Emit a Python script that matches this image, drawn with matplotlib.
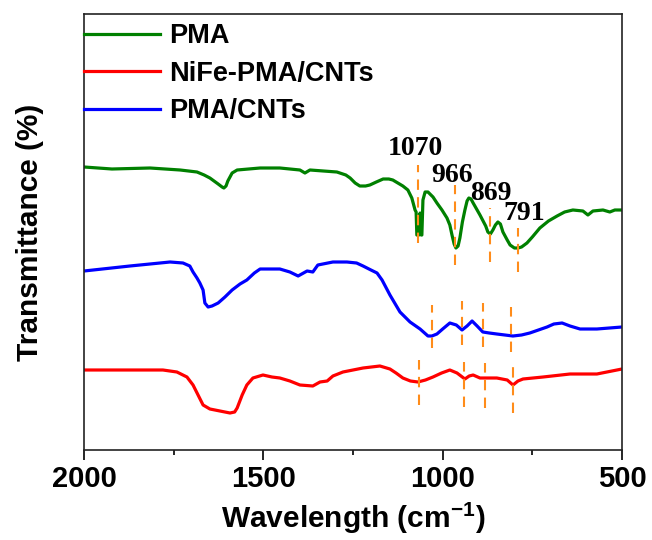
import matplotlib
matplotlib.use("Agg")
import matplotlib.pyplot as plt
from matplotlib.ticker import MultipleLocator

# FTIR spectra (wavenumber in cm-1, transmittance in arbitrary offset units)
pma_wn = [2000, 1922, 1816, 1732, 1685, 1665, 1649, 1626, 1615, 1610, 1604, 1599,
          1587, 1573, 1509, 1454, 1398, 1384, 1370, 1295, 1270, 1258, 1244, 1231,
          1215, 1203, 1185, 1166, 1150, 1139, 1111, 1097, 1086, 1077, 1074, 1072,
          1066, 1063, 1060, 1058, 1055, 1049, 1041, 1027, 1016, 1002, 988, 980,
          974, 968, 963, 957, 952, 945, 938, 932, 927, 921, 915, 896, 880, 874,
          867, 860, 853, 846, 839, 832, 820, 812, 800, 790, 780, 765, 750, 729,
          705, 681, 660, 637, 609, 595, 581, 553, 534, 520, 500]
pma_t = [283, 281, 282, 280, 278, 275, 272, 266, 263, 262, 264, 269,
         277, 280, 282, 282, 280, 277, 280, 278, 275, 272, 267, 264,
         264, 265, 268, 271, 271, 270, 264, 260, 252, 240, 238, 215,
         215, 237, 215, 215, 250, 258, 258, 253, 247, 240, 232, 225,
         215, 206, 202, 204, 212, 228, 240, 249, 252, 251, 247, 235, 224, 218,
         216, 220, 225, 228, 226, 218, 210, 205, 202, 202, 203, 207, 213, 222,
         229, 234, 238, 240, 239, 235, 239, 240, 238, 240, 240]

cnt_wn = [2000, 1872, 1760, 1724, 1705, 1696, 1685, 1677, 1668, 1663, 1654, 1643,
          1626, 1607, 1587, 1565, 1546, 1525, 1509, 1454, 1426, 1403, 1378, 1362,
          1348, 1306, 1267, 1240, 1222, 1200, 1183, 1169, 1147, 1119, 1091, 1063,
          1041, 1030, 1016, 1000, 980, 962, 946, 932, 918, 904, 888, 870, 849,
          804, 780, 757, 733, 709, 690, 667, 645, 617, 570, 500]
cnt_t = [179, 184, 188, 187, 184, 178, 172, 167, 160, 147, 143, 144,
         147, 153, 160, 166, 170, 177, 181, 181, 178, 174, 179, 178,
         185, 188, 188, 187, 184, 180, 177, 170, 155, 138, 128, 121,
         114, 114, 116, 121, 127, 125, 120, 124, 129, 124, 118, 117, 116,
         114, 115, 117, 120, 123, 126, 127, 124, 121, 121, 123]

nife_wn = [2000, 1780, 1741, 1713, 1696, 1682, 1668, 1649, 1621, 1593, 1580, 1573,
           1559, 1546, 1529, 1501, 1476, 1454, 1426, 1398, 1362, 1342, 1322, 1306,
           1278, 1250, 1222, 1175, 1147, 1130, 1111, 1090, 1069, 1048, 1027, 1003,
           980, 960, 938, 926, 915, 896, 849, 820, 804, 790, 776, 720, 645, 570,
           500]
nife_t = [80, 80, 78, 73, 65, 55, 45, 41, 39, 37, 38, 42,
          55, 65, 72, 75, 73, 72, 69, 65, 64, 68, 69, 74,
          78, 80, 82, 84, 81, 77, 72, 69, 68, 70, 73, 77,
          80, 77, 71, 74, 75, 72, 72, 70, 65, 69, 71, 73, 76, 76,
          81]

# Band markers: wavenumber, lower and upper transmittance of each dashed guide
pma_bands = [1070, 966, 869, 791]
pma_band_lo = [207, 185, 188, 178]
pma_band_hi = [285, 265, 242, 222]
cnt_bands = [1030, 946, 888, 810]
cnt_band_lo = [102, 105, 103, 98]
cnt_band_hi = [145, 149, 147, 143]
nife_bands = [1066, 941, 882, 804]
nife_band_lo = [45, 43, 42, 37]
nife_band_hi = [90, 88, 87, 83]

# Peak labels for the PMA spectrum
peak_text = ["1070", "966", "869", "791"]
peak_x = [1075, 974, 865, 773]
peak_y = [295, 268, 250, 230]

sans = ["Liberation Sans", "DejaVu Sans"]
plt.rcParams["mathtext.fontset"] = "custom"
plt.rcParams["mathtext.bf"] = "Liberation Sans:bold"
plt.rcParams["mathtext.rm"] = "Liberation Sans:bold"

fig = plt.figure(figsize=(6.52, 5.40), dpi=100)
ax = fig.add_axes([84 / 652, 90 / 540, 538 / 652, 436 / 540])

green, red, blue = "#008000", "#ff0000", "#0000ff"
orange = "#ff8c1a"
lw = 2.3

ax.plot(pma_wn, pma_t, color=green, lw=lw, label="PMA", solid_joinstyle="round")
ax.plot(nife_wn, nife_t, color=red, lw=lw, label="NiFe-PMA/CNTs",
        solid_joinstyle="round")
ax.plot(cnt_wn, cnt_t, color=blue, lw=lw, label="PMA/CNTs", solid_joinstyle="round")

dash = (0, (5, 3.5))
for wn_list, lo, hi in ((pma_bands, pma_band_lo, pma_band_hi),
                        (cnt_bands, cnt_band_lo, cnt_band_hi),
                        (nife_bands, nife_band_lo, nife_band_hi)):
    ax.vlines(wn_list, lo, hi, colors=orange, linestyles=dash, lw=1.5)

for s, x, y in zip(peak_text, peak_x, peak_y):
    ax.text(x, y, s, ha="center", va="baseline", fontsize=20,
            fontweight="bold", family=["Liberation Serif", "DejaVu Serif"])

ax.set_xlim(2000, 500)
ax.set_ylim(0, 436)
ax.xaxis.set_major_locator(MultipleLocator(500))
ax.xaxis.set_minor_locator(MultipleLocator(250))
ax.set_yticks([])
ax.tick_params(axis="x", which="major", direction="out", length=7, width=1.2,
               pad=4, top=False)
ax.tick_params(axis="x", which="minor", direction="out", length=3.5, width=1.2,
               top=False)
for lab in ax.get_xticklabels():
    lab.set_fontsize(21)
    lab.set_fontweight("bold")
    lab.set_family(sans)
for sp in ax.spines.values():
    sp.set_linewidth(1.2)
    sp.set_color("#222222")

ax.set_xlabel(r"Wavelength (cm$^{\mathbf{-1}}$)", fontsize=21.5, fontweight="bold",
              family=sans, labelpad=5)
ax.set_ylabel("Transmittance (%)", fontsize=21.5, fontweight="bold",
              family=sans, labelpad=29)

leg = ax.legend(loc="upper left", bbox_to_anchor=(0.0, 1 - 9 / 436), frameon=False,
                prop={"family": sans, "weight": "bold", "size": 19.5},
                handlelength=2.8, handletextpad=0.33, labelspacing=0.43,
                borderaxespad=0.0, borderpad=0.0)

fig.savefig("out.png", dpi=100)
